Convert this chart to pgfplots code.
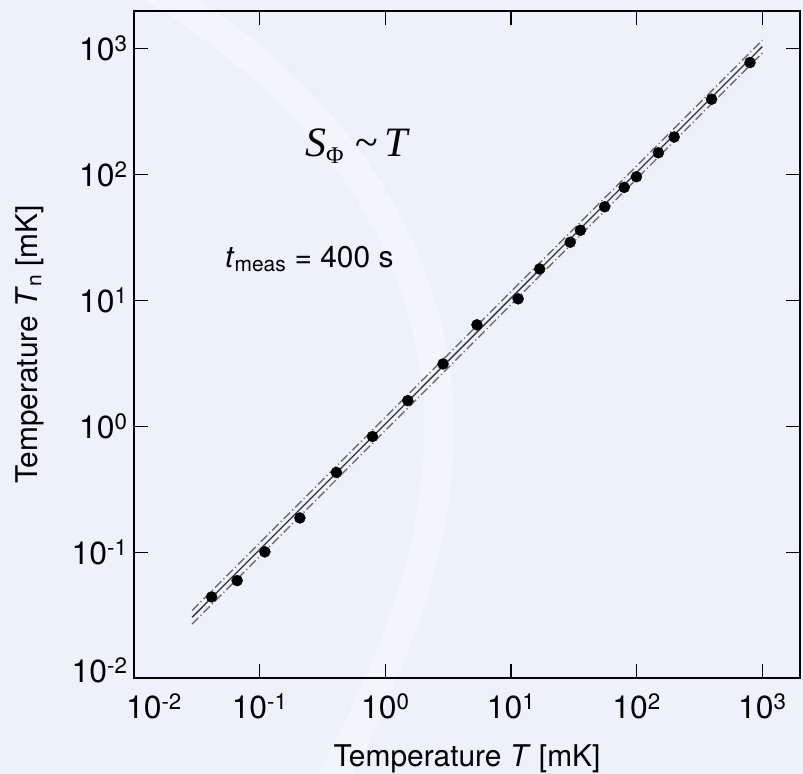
\documentclass[border=0pt]{standalone}
\usepackage{fontspec}
\setmainfont{TeX Gyre Heros}
\newfontfamily\seriffont{Liberation Serif}
\usepackage{pgfplots}
\pgfplotsset{compat=1.18}
\definecolor{bg}{RGB}{237,241,249}
\definecolor{fitgray}{RGB}{110,110,110}

\pgfplotstableread{
x y
0.0415 0.0441
0.0662 0.0594
0.110 0.1005
0.209 0.187
0.408 0.430
0.790 0.830
1.51 1.60
2.88 3.13
5.36 6.40
11.4 10.3
16.9 17.8
29.6 29.0
35.7 36.1
55.7 55.5
79.6 79.1
99.6 96.1
149 149
199 199
395 397
798 777
}\datatable

\begin{document}
\begin{tikzpicture}
\fill[bg] (-134bp,-96bp) rectangle (669bp,678bp);
\draw[white, line width=30bp, opacity=0.3, line cap=round]
  (20bp,690bp) .. controls (200bp,580bp) and (300bp,430bp) .. (305bp,260bp)
  .. controls (308bp,120bp) and (250bp,0bp) .. (200bp,-100bp);
\begin{axis}[
  xmode=log, ymode=log,
  scale only axis, width=666bp, height=667bp,
  xmin=0.01, xmax=1995, ymin=0.01, ymax=1995,
  xtick={0.01,0.1,1,10,100,1000},
  xticklabels={\hspace*{40bp}10\textsuperscript{-2},10\textsuperscript{-1},10\textsuperscript{0},10\textsuperscript{1},10\textsuperscript{2},10\textsuperscript{3}},
  ytick={0.01,0.1,1,10,100,1000},
  yticklabels={\raisebox{16bp}{10\textsuperscript{-2}},10\textsuperscript{-1},10\textsuperscript{0},10\textsuperscript{1},10\textsuperscript{2},10\textsuperscript{3}},
  xminorticks=false, yminorticks=false,
  tick align=inside, major tick length=14bp,
  axis line style={line width=1.6bp, black},
  every tick/.style={black, line width=1.3bp},
  tick label style={font=\fontsize{32}{37}\selectfont},
  xticklabel style={yshift=-12bp},
  yticklabel style={xshift=-3bp},
  xlabel={Temperature \textit{T} [mK]},
  label style={font=\fontsize{30}{35}\selectfont},
  xlabel style={at={(axis description cs:0.5,0)}, anchor=center, yshift=-81bp},
  clip=false,
]
\addplot[fitgray, line width=1.4bp, dash pattern=on 9bp off 3bp on 1.2bp off 3bp] coordinates {(0.029,0.0344) (1000,1165)};
\addplot[fitgray, line width=1.4bp, dash pattern=on 9bp off 3bp on 1.2bp off 3bp] coordinates {(0.029,0.0268) (1000,925)};
\addplot[black!80, line width=1.3bp] coordinates {(0.029,0.0304) (1000,1040)};
\addplot[only marks, mark=*, mark size=5.5bp, black] table[x=x,y=y] {\datatable};
\end{axis}
\node[rotate=90, anchor=center, font=\fontsize{30}{35}\selectfont] at (-104bp,333.5bp) {Temperature \textit{T}\textsubscript{n} [mK]};
\node[anchor=base west, inner sep=0pt, font=\seriffont\fontsize{42}{48}\selectfont] at (171bp,521bp) {\textit{S}\raisebox{-7bp}{\fontsize{24}{28}\selectfont Φ}\hspace{12bp}\textasciitilde\hspace{6bp}\textit{T}};
\node[anchor=base west, inner sep=0pt, font=\fontsize{30}{35}\selectfont] at (91bp,410bp) {\textit{t}\textsubscript{meas} = 400 s};
\pgfresetboundingbox
\path (-134bp,-96bp) rectangle (669bp,678bp);
\end{tikzpicture}
\end{document}
